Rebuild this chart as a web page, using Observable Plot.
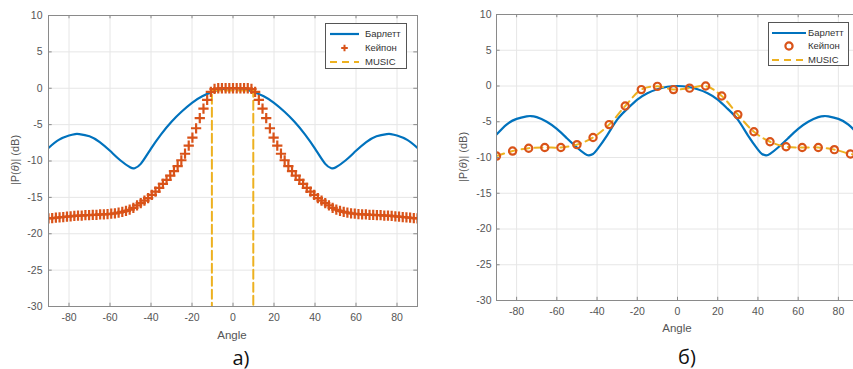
<!DOCTYPE html>
<html><head><meta charset="utf-8">
<script src="https://cdn.jsdelivr.net/npm/d3@7"></script>
<script src="https://cdn.jsdelivr.net/npm/@observablehq/plot@0.6"></script>
<style>
body{margin:0;width:853px;height:369px;overflow:hidden;background:#fff;position:relative;font-family:"Liberation Sans",Arial,sans-serif;}
.panel{position:absolute;top:0;}
.panel svg{max-width:none !important;}
.ylab{position:absolute;font-size:11px;color:#555;transform:translate(-50%,-50%) rotate(-90deg);white-space:nowrap;}
.xlab{position:absolute;font-size:11.5px;color:#555;transform:translate(-50%,-50%);white-space:nowrap;}
.cap{position:absolute;font-family:"Open Sans","Noto Sans",sans-serif;font-size:20px;color:#111;transform:translate(-50%,-50%);}
.legend{position:absolute;background:#fff;border:1px solid #555;box-sizing:border-box;}
.legend .row{position:absolute;left:0;height:12px;font-size:9.5px;color:#333;}
.legend svg{position:absolute;left:0;top:0;}
.legend span{position:absolute;top:0;line-height:12px;}
</style></head>
<body>
<div id="pa" class="panel" style="left:0;width:430px"></div>
<div id="pb" class="panel" style="left:430px;width:440px"></div>
<script>
// ---------- data ----------
const xTicks = [-80,-60,-40,-20,0,20,40,60,80];
const yTicks = [-30,-25,-20,-15,-10,-5,0,5,10];
const seriesNames = ["Барлетт","Кейпон","MUSIC"];

// panel а) Bartlett
const bartlettA_angle = [-90,-85,-80,-77,-75,-70,-65,-60,-55,-50,-48,-45,-40,-35,-30,-25,-20,-15,-10,-5,0,5,10,15,20,25,30,35,40,45,48,50,55,60,65,70,75,77,80,85,90];
const bartlettA_db    = [-8.2,-7.1,-6.5,-6.3,-6.3,-6.6,-7.4,-8.6,-9.9,-10.9,-11.0,-10.4,-8.3,-6.3,-4.6,-3.2,-2.0,-1.1,-0.5,-0.1,0,-0.1,-0.5,-1.1,-2.0,-3.2,-4.6,-6.3,-8.3,-10.4,-11.0,-10.9,-9.9,-8.6,-7.4,-6.6,-6.3,-6.3,-6.5,-7.1,-8.2];

// panel а) Capon
const caponA_angle = [-90,-88.2,-86.4,-84.6,-82.8,-81,-79.2,-77.4,-75.6,-73.8,-72,-70.2,-68.4,-66.6,-64.8,-63,-61.2,-59.4,-57.6,-55.8,-54,-52.2,-50.4,-48.6,-46.8,-45,-43.2,-41.4,-39.6,-37.8,-36,-34.2,-32.4,-30.6,-28.8,-27,-25.2,-23.4,-21.6,-19.8,-18,-16.2,-14.4,-12.6,-10.8,-9,-7.2,-5.4,-3.6,-1.8,0,
  1.8,3.6,5.4,7.2,9,10.8,12.6,14.4,16.2,18,19.8,21.6,23.4,25.2,27,28.8,30.6,32.4,34.2,36,37.8,39.6,41.4,43.2,45,46.8,48.6,50.4,52.2,54,55.8,57.6,59.4,61.2,63,64.8,66.6,68.4,70.2,72,73.8,75.6,77.4,79.2,81,82.8,84.6,86.4,88.2,90];
const caponA_db = [-17.9,-17.85,-17.8,-17.75,-17.7,-17.65,-17.6,-17.55,-17.5,-17.5,-17.45,-17.45,-17.4,-17.4,-17.35,-17.35,-17.3,-17.25,-17.2,-17.1,-17.0,-16.85,-16.7,-16.45,-16.1,-15.8,-15.45,-15.1,-14.65,-14.2,-13.7,-13.15,-12.6,-12.0,-11.4,-10.7,-9.9,-9.0,-7.9,-6.8,-5.5,-4.1,-2.8,-1.6,-0.5,-0.1,0,0,0,0,0,
  0,0,0,0,-0.1,-0.5,-1.6,-2.8,-4.1,-5.5,-6.8,-7.9,-9.0,-9.9,-10.7,-11.4,-12.0,-12.6,-13.15,-13.7,-14.2,-14.65,-15.1,-15.45,-15.8,-16.1,-16.45,-16.7,-16.85,-17.0,-17.1,-17.2,-17.25,-17.3,-17.35,-17.35,-17.4,-17.4,-17.45,-17.45,-17.5,-17.5,-17.55,-17.6,-17.65,-17.7,-17.75,-17.8,-17.85,-17.9];

// panel а) MUSIC
const musicA_angle = [-10.3,-10.3,9.9,9.9];
const musicA_db    = [-45,-0.3,-0.3,-45];

// panel б) Bartlett
const bartlettB_angle = [-90,-85,-80,-75,-73,-70,-65,-60,-55,-50,-46,-44,-42,-40,-35,-30,-25,-20,-15,-10,-5,0,5,10,15,20,25,30,35,40,42,44,46,50,55,60,65,70,73,75,80,85,90];
const bartlettB_db    = [-6.8,-5.4,-4.6,-4.25,-4.2,-4.35,-5.0,-6.0,-7.3,-8.6,-9.5,-9.7,-9.5,-8.9,-6.9,-4.7,-3.2,-1.9,-1.0,-0.45,-0.1,0,-0.1,-0.45,-1.0,-1.9,-3.2,-4.7,-6.9,-8.9,-9.5,-9.7,-9.5,-8.6,-7.3,-6.0,-5.0,-4.35,-4.2,-4.25,-4.6,-5.4,-6.8];

// panel б) Capon and MUSIC
const caponB_angle = [-90,-82,-74,-66,-58,-50,-42,-34,-26,-18,-10,-2,6,14,22,30,38,46,54,62,70,78,86];
const caponB_db    = [-9.8,-9.1,-8.7,-8.6,-8.6,-8.2,-7.2,-5.4,-2.8,-0.5,-0.05,-0.5,-0.3,0,-1.4,-4.0,-6.4,-7.8,-8.5,-8.6,-8.6,-8.9,-9.5];
const musicB_angle = [-90,-82,-74,-66,-58,-50,-42,-34,-26,-18,-10,-2,6,14,22,30,38,46,54,62,70,78,86,90];
const musicB_db    = [-9.8,-9.1,-8.7,-8.6,-8.6,-8.2,-7.2,-5.4,-2.8,-0.5,-0.05,-0.5,-0.3,0,-1.4,-4.0,-6.4,-7.8,-8.5,-8.6,-8.6,-8.9,-9.5,-9.7];

// ---------- styles ----------
const C_BLUE = "#0072BD", C_RED = "#D95319", C_YEL = "#EDB120";
const GRID = "#e6e6e6", AXIS = "#8a8a8a";
const zip = (a, b) => a.map((x, i) => ({x, y: b[i]}));

function panel(el, opts, lines) {
  const {width, ml, mr, mt, mb, height} = opts;
  const marks = [
    Plot.ruleX(xTicks, {stroke: GRID}),
    Plot.ruleY(yTicks, {stroke: GRID}),
    ...lines,
    Plot.ruleX(xTicks, {x: d => d, y1: -30, y2: -29.55, stroke: AXIS}),
    Plot.ruleX(xTicks, {x: d => d, y1: 10, y2: 9.55, stroke: AXIS}),
    Plot.ruleY(yTicks, {y: d => d, x1: -90, x2: -88.2, stroke: AXIS}),
    Plot.ruleY(yTicks, {y: d => d, x1: 90, x2: 88.2, stroke: AXIS}),
    Plot.frame({stroke: AXIS}),
    Plot.axisX({ticks: xTicks, tickSize: 0, tickPadding: 7, tickFormat: d => String(d), label: null, fill: "#555"}),
    Plot.axisY({ticks: yTicks, tickSize: 0, tickPadding: opts.ypad, tickFormat: d => String(d), label: null, fill: "#555"})
  ];
  const svg = Plot.plot({
    width, height, marginLeft: ml, marginRight: mr, marginTop: mt, marginBottom: mb,
    style: {fontFamily: "Liberation Sans, Arial, sans-serif", fontSize: "10.5px", background: "transparent", maxWidth: "none"},
    x: {domain: [-90, 90]},
    y: {domain: [-30, 10]},
    marks
  });
  svg.style.maxWidth = "none";
  document.getElementById(el).appendChild(svg);
}

panel("pa", {width: 430, height: 340, ml: 48, mr: 13, mt: 15, mb: 34, ypad: 6}, [
  Plot.line(zip(bartlettA_angle, bartlettA_db), {x: "x", y: "y", stroke: C_BLUE, strokeWidth: 2.2, curve: "natural", clip: true}),
  Plot.line(zip(musicA_angle, musicA_db), {x: "x", y: "y", stroke: C_YEL, strokeWidth: 2, strokeDasharray: "9,4", clip: true}),
  Plot.dot(zip(caponA_angle, caponA_db), {x: "x", y: "y", symbol: "plus", r: 3.4, stroke: C_RED, strokeWidth: 2.2, clip: true})
]);

panel("pb", {width: 440, height: 340, ml: 66, mr: 12, mt: 14, mb: 40, ypad: 5}, [
  Plot.line(zip(bartlettB_angle, bartlettB_db), {x: "x", y: "y", stroke: C_BLUE, strokeWidth: 2.2, curve: "natural", clip: true}),
  Plot.line(zip(musicB_angle, musicB_db), {x: "x", y: "y", stroke: C_YEL, strokeWidth: 2, strokeDasharray: "8,5", curve: "catmull-rom", clip: true}),
  Plot.dot(zip(caponB_angle, caponB_db), {x: "x", y: "y", symbol: "circle", r: 3.6, stroke: C_RED, strokeWidth: 2.2, fill: "none", clip: true})
]);

// ---------- labels & legends ----------
function addText(cls, html, x, y) {
  const d = document.createElement("div");
  d.className = cls; d.innerHTML = html;
  d.style.left = x + "px"; d.style.top = y + "px";
  document.body.appendChild(d);
}
const yLabel = "|P(<i>θ</i>)| (dB)";
addText("ylab", yLabel, 15, 160);
addText("ylab", yLabel, 463, 157);
addText("xlab", "Angle", 232, 335);
addText("xlab", "Angle", 677, 328);
addText("cap", "а)", 241, 357);
addText("cap", "б)", 687, 356);

function legend(x, y, w, h, rowsY, lineX0, lineX1, textX, capSym) {
  const box = document.createElement("div");
  box.className = "legend";
  Object.assign(box.style, {left: x + "px", top: y + "px", width: w + "px", height: h + "px"});
  seriesNames.forEach((name, i) => {
    const row = document.createElement("div");
    row.className = "row";
    row.style.top = (rowsY[i] - y - 6) + "px";
    row.style.width = w + "px";
    let sample = "";
    if (i === 0) sample = `<line x1="${lineX0}" x2="${lineX1}" y1="6" y2="6" stroke="${C_BLUE}" stroke-width="2.2"/>`;
    if (i === 2) sample = `<line x1="${lineX0}" x2="${lineX1}" y1="6" y2="6" stroke="${C_YEL}" stroke-width="2" stroke-dasharray="7,5"/>`;
    if (i === 1) {
      const cx = (lineX0 + lineX1) / 2;
      sample = capSym === "plus"
        ? `<path d="M${cx-3.3},6h6.6M${cx},2.7v6.6" stroke="${C_RED}" stroke-width="2"/>`
        : `<circle cx="${cx}" cy="6" r="3.6" fill="none" stroke="${C_RED}" stroke-width="2.2"/>`;
    }
    row.innerHTML = `<svg width="${w}" height="12">${sample}</svg><span style="left:${textX}px">${name}</span>`;
    box.appendChild(row);
  });
  document.body.appendChild(box);
}
legend(325, 23, 82, 46, [33, 47, 61], 4, 33, 39, "plus");
legend(768, 22, 81, 44, [32, 45, 59], 3, 37, 39, "circle");
</script>
</body></html>
